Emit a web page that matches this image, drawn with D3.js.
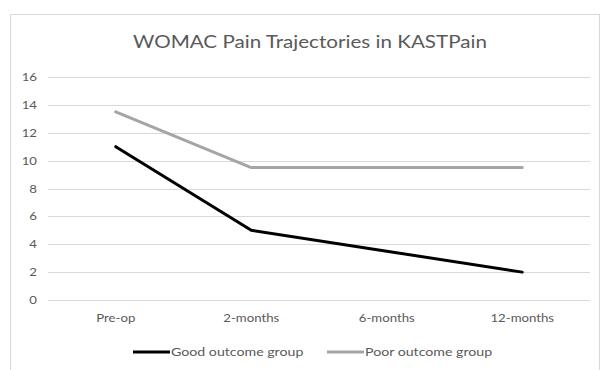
<!DOCTYPE html>
<html>
<head>
<meta charset="utf-8">
<script src="https://cdn.jsdelivr.net/npm/d3@7"></script>
<style>
  body { margin: 0; background: #fff; }
  svg { display: block; }
  text { font-family: Lato, "Open Sans", sans-serif; }
</style>
</head>
<body>
<svg id="chart" width="604" height="370"></svg>
<script>
const categories = ["Pre-op", "2-months", "6-months", "12-months"];
const goodOutcome = [11, 5, 3.5, 2];
const poorOutcome = [13.5, 9.5, 9.5, 9.5];
const yTicks = [0, 2, 4, 6, 8, 10, 12, 14, 16];
const seriesNames = ["Good outcome group", "Poor outcome group"];
const seriesColors = ["#000000", "#a5a5a5"];
const title = "WOMAC Pain Trajectories in KASTPain";

const svg = d3.select("#chart");

function stretch(sel, f) {
  sel.each(function () {
    const w = this.getComputedTextLength();
    d3.select(this).attr("textLength", w * f).attr("lengthAdjust", "spacingAndGlyphs");
  });
}

// chart frame
svg.append("rect").attr("x", 10.5).attr("y", 14.5).attr("width", 589).attr("height", 370)
  .attr("fill", "#fff").attr("stroke", "#d9d9d9").attr("stroke-width", 1);

const x = d3.scaleBand().domain(categories).range([48, 590]);
const y = d3.scaleLinear().domain([0, 16]).range([300, 77]);

// gridlines
svg.append("g").selectAll("line").data(yTicks).join("line")
  .attr("x1", 48).attr("x2", 590)
  .attr("y1", d => Math.round(y(d)) + 0.5).attr("y2", d => Math.round(y(d)) + 0.5)
  .attr("stroke", "#d9d9d9").attr("stroke-width", 1);

// y axis labels
const yAxis = d3.axisLeft(y).tickValues(yTicks).tickSize(0).tickPadding(0);
const gy = svg.append("g").attr("transform", "translate(37,0)").call(yAxis);
gy.select(".domain").remove();
gy.selectAll("text").attr("fill", "#595959").style("font-size", "11px").style("font-family", "Lato, sans-serif");
stretch(gy.selectAll("text"), 1.2);

// x axis labels
const xAxis = d3.axisBottom(x).tickSize(0).tickPadding(0);
const gx = svg.append("g").attr("transform", "translate(0,314)").call(xAxis);
gx.select(".domain").remove();
gx.selectAll("text").attr("fill", "#595959").style("font-size", "11px").style("font-family", "Lato, sans-serif");
stretch(gx.selectAll("text"), 1.2);

// lines
const line = d3.line()
  .x((d, i) => x(categories[i]) + x.bandwidth() / 2)
  .y(d => y(d));

[goodOutcome, poorOutcome].forEach((s, i) => {
  svg.append("path").datum(s)
    .attr("d", line)
    .attr("fill", "none")
    .attr("stroke", seriesColors[i])
    .attr("stroke-width", 3)
    .attr("stroke-linejoin", "round")
    .attr("stroke-linecap", "round");
});

// title
const t = svg.append("text").attr("x", 310).attr("y", 48).attr("text-anchor", "middle")
  .attr("fill", "#595959").style("font-size", "18px").text(title);
stretch(t, 1.145);

// legend
const legendX = [133, 327];
seriesNames.forEach((n, i) => {
  const g = svg.append("g").attr("transform", `translate(${legendX[i]},352)`);
  g.append("line").attr("x1", 0).attr("x2", 37).attr("y1", 0).attr("y2", 0)
    .attr("stroke", seriesColors[i]).attr("stroke-width", 3);
  const lt = g.append("text").attr("x", 38).attr("y", 4).attr("fill", "#595959")
    .style("font-size", "12px").text(n);
  stretch(lt, 1.18);
});
</script>
</body>
</html>
